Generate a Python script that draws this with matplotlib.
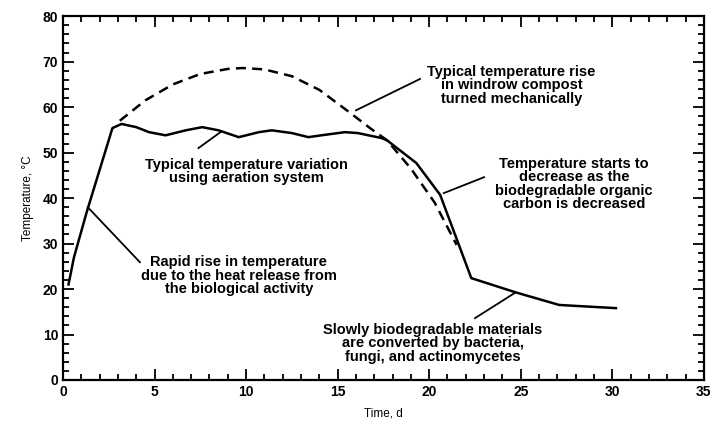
import matplotlib.pyplot as plt
from matplotlib.ticker import MultipleLocator

# aerated system (solid)
aer_day = [0.3, 0.6, 1.3, 2.7, 3.2, 4.0, 4.7, 5.6, 6.7, 7.6, 8.5, 9.6, 10.7, 11.4,
           12.5, 13.4, 14.1, 15.4, 16.1, 17.4, 17.7, 19.3, 20.6, 22.3, 24.7, 27.1, 30.2]
aer_temp = [21, 27, 37, 55.4, 56.3, 55.6, 54.5, 53.8, 54.9, 55.6, 54.9, 53.4, 54.5, 54.9,
            54.3, 53.4, 53.8, 54.5, 54.3, 53.2, 52.7, 47.7, 40.7, 22.4, 19.3, 16.5, 15.8]

# windrow turned mechanically (dashed)
win_day = [3.1, 4.5, 6.0, 7.5, 9.0, 9.8, 11.0, 12.5, 14.0, 15.5, 16.8, 17.7, 19.0, 20.3, 21.5]
win_temp = [57, 61.5, 65, 67.3, 68.4, 68.6, 68.3, 66.8, 63.8, 59.3, 55.3, 52.7, 46.5, 39, 29.7]

x_ticks = [0, 5, 10, 15, 20, 25, 30, 35]
y_ticks = [0, 10, 20, 30, 40, 50, 60, 70, 80]

plt.rcParams['font.family'] = ['Liberation Sans', 'DejaVu Sans']

fig = plt.figure(figsize=(7.16, 4.26), dpi=100)
ax = fig.add_axes([0.088, 0.108, 0.895, 0.854])

ax.plot(aer_day, aer_temp, color='black', lw=1.8)
ax.plot(win_day, win_temp, color='black', lw=1.8, ls=(0, (4, 2.5)))

ax.set_xlim(0, 35)
ax.set_ylim(0, 80)
ax.set_xticks(x_ticks)
ax.set_yticks(y_ticks)
ax.xaxis.set_minor_locator(MultipleLocator(1))
ax.yaxis.set_minor_locator(MultipleLocator(2))
ax.tick_params(which='both', direction='in', top=True, right=True, width=1.3)
ax.tick_params(which='major', length=8, labelsize=10)
ax.tick_params(which='minor', length=4.5)
for lab in ax.get_xticklabels() + ax.get_yticklabels():
    lab.set_fontweight('bold')
for s in ax.spines.values():
    s.set_linewidth(1.6)

ax.set_xlabel('Time, d', fontsize=8.5, labelpad=6)
ax.set_ylabel('Temperature, °C', fontsize=8.5, labelpad=6)

txt = dict(ha='center', va='center', fontsize=10.5, fontweight='bold', linespacing=0.95)
lw = dict(color='black', lw=1.3)

ax.text(10.0, 45.9, 'Typical temperature variation\nusing aeration system', **txt)
ax.plot([7.4, 8.6], [51.0, 54.5], **lw)

ax.text(24.5, 64.8, 'Typical temperature rise\nin windrow compost\nturned mechanically', **txt)
ax.plot([19.5, 16.0], [66.2, 59.3], **lw)

ax.text(27.9, 43.1, 'Temperature starts to\ndecrease as the\nbiodegradable organic\ncarbon is decreased', **txt)
ax.plot([23.0, 20.8], [44.6, 41.1], **lw)

ax.text(9.6, 22.9, 'Rapid rise in temperature\ndue to the heat release from\nthe biological activity', **txt)
ax.plot([4.2, 1.35], [25.9, 38.0], **lw)

ax.text(20.2, 8.1, 'Slowly biodegradable materials\nare converted by bacteria,\nfungi, and actinomycetes', **txt)
ax.plot([22.5, 24.7], [13.6, 19.2], **lw)

fig.savefig('out.png', dpi=100)
